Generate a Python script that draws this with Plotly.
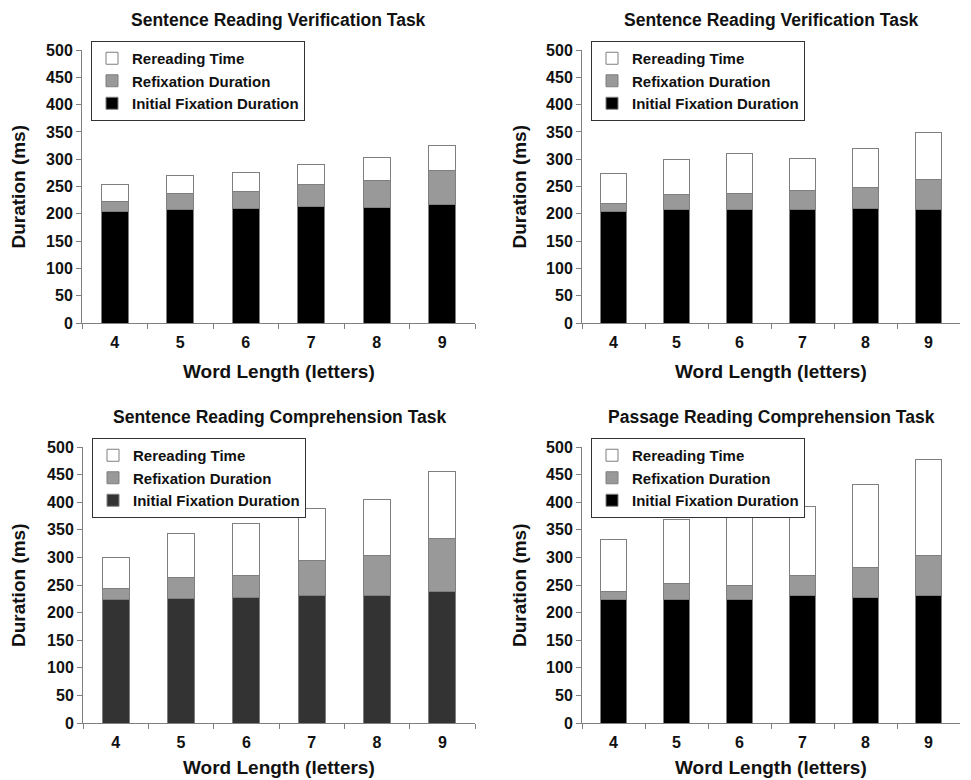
import plotly.graph_objects as go

categories = ["4", "5", "6", "7", "8", "9"]

titles = [
    "Sentence Reading Verification Task",
    "Sentence Reading Verification Task",
    "Sentence Reading Comprehension Task",
    "Passage Reading Comprehension Task",
]
x_title = "Word Length (letters)"
y_title = "Duration (ms)"

# Segment durations (ms) per panel: initial fixation, refixation, rereading
tl_initial = [205, 207, 210, 213, 212, 217]
tl_refix = [18, 31, 30, 41, 49, 63]
tl_reread = [30, 33, 36, 36, 42, 46]

tr_initial = [205, 207, 207, 207, 210, 208]
tr_refix = [14, 28, 30, 36, 38, 55]
tr_reread = [54, 64, 73, 59, 72, 85]

bl_initial = [224, 226, 228, 231, 231, 238]
bl_refix = [20, 37, 40, 63, 72, 96]
bl_reread = [56, 81, 94, 95, 101, 122]

br_initial = [223, 224, 223, 231, 228, 231]
br_refix = [15, 29, 27, 37, 54, 72]
br_reread = [95, 116, 124, 124, 150, 174]

panels = [
    (tl_initial, tl_refix, tl_reread, "#000000"),
    (tr_initial, tr_refix, tr_reread, "#000000"),
    (bl_initial, bl_refix, bl_reread, "#333333"),
    (br_initial, br_refix, br_reread, "#000000"),
]

OFF = 8  # page body margin
W, H = 971 - OFF, 780 - OFF
FONT = "Arial, Liberation Sans, sans-serif"
TXT = "#111111"


def px(x):
    return (x - OFF) / W


def py(y):
    return 1 - (y - OFF) / H


# pixel boxes of plot areas (window coords): (x0, x1, ytop, ybottom, ytitle_axis_x, xtitle_y)
boxes = [
    (82, 475, 50, 323, 18, 371),
    (582, 960, 50, 323, 519, 371),
    (83, 475, 447, 723, 18, 767),
    (582, 960, 447, 723, 519, 767),
]

fig = go.Figure()
line = dict(color="#7f7f7f", width=1)

for i, (ini, ref, rer, inicolor) in enumerate(panels):
    n = i + 1
    xa = "x" if n == 1 else f"x{n}"
    ya = "y" if n == 1 else f"y{n}"
    lg = "legend" if n == 1 else f"legend{n}"
    fig.add_trace(go.Bar(x=categories, y=ini, name="Initial Fixation Duration",
                         marker=dict(color=inicolor, line=line), xaxis=xa, yaxis=ya, legend=lg))
    fig.add_trace(go.Bar(x=categories, y=ref, name="Refixation Duration",
                         marker=dict(color="#999999", line=line), xaxis=xa, yaxis=ya, legend=lg))
    fig.add_trace(go.Bar(x=categories, y=rer, name="Rereading Time",
                         marker=dict(color="#ffffff", line=line), xaxis=xa, yaxis=ya, legend=lg))

    x0, x1, yt, yb, ytx, xty = boxes[i]
    xkey = "xaxis" if n == 1 else f"xaxis{n}"
    ykey = "yaxis" if n == 1 else f"yaxis{n}"
    fig.layout[xkey] = dict(
        domain=[px(x0), px(x1)], anchor=ya, type="category", automargin=False,
        showline=True, linecolor="#808080", linewidth=1,
        ticks="outside", tickson="boundaries", ticklen=5, tickcolor="#808080",
        ticklabelstandoff=5,
        showgrid=False, zeroline=False,
        tickfont=dict(family=FONT, size=16, color=TXT, weight="bold"),
    )
    fig.layout[ykey] = dict(
        domain=[py(yb), py(yt)], anchor=xa, range=[0, 500], dtick=50, automargin=False,
        showline=True, linecolor="#808080", linewidth=1,
        ticks="outside", ticklen=5, tickcolor="#808080",
        showgrid=False, zeroline=False,
        tickfont=dict(family=FONT, size=16, color=TXT, weight="bold"),
    )
    fig.layout[lg] = dict(
        x=px(x0 + 9), y=py(yt - 9), xanchor="left", yanchor="top",
        traceorder="reversed", bgcolor="#ffffff", bordercolor="#333333", borderwidth=1,
        font=dict(family=FONT, size=15, color=TXT, weight="bold"),
        tracegroupgap=0, itemwidth=30,
    )
    fig.add_annotation(text=f"<b>{titles[i]}</b>", x=px((x0 + x1) / 2), y=py(yt - 30),
                       xref="paper", yref="paper", showarrow=False, xanchor="center", yanchor="middle",
                       font=dict(family=FONT, size=17.5, color=TXT))
    fig.add_annotation(text=f"<b>{x_title}</b>", x=px((x0 + x1) / 2), y=py(xty),
                       xref="paper", yref="paper", showarrow=False, xanchor="center", yanchor="middle",
                       font=dict(family=FONT, size=19, color=TXT))
    fig.add_annotation(text=f"<b>{y_title}</b>", x=px(ytx), y=py((yt + yb) / 2), textangle=-90,
                       xref="paper", yref="paper", showarrow=False, xanchor="center", yanchor="middle",
                       font=dict(family=FONT, size=19, color=TXT))

fig.update_layout(
    template="none",
    width=W, height=H, margin=dict(l=0, r=0, t=0, b=0, pad=0),
    barmode="stack", bargap=0.59,
    plot_bgcolor="#ffffff", paper_bgcolor="#ffffff",
    showlegend=True,
)

fig.write_html("out.html")
